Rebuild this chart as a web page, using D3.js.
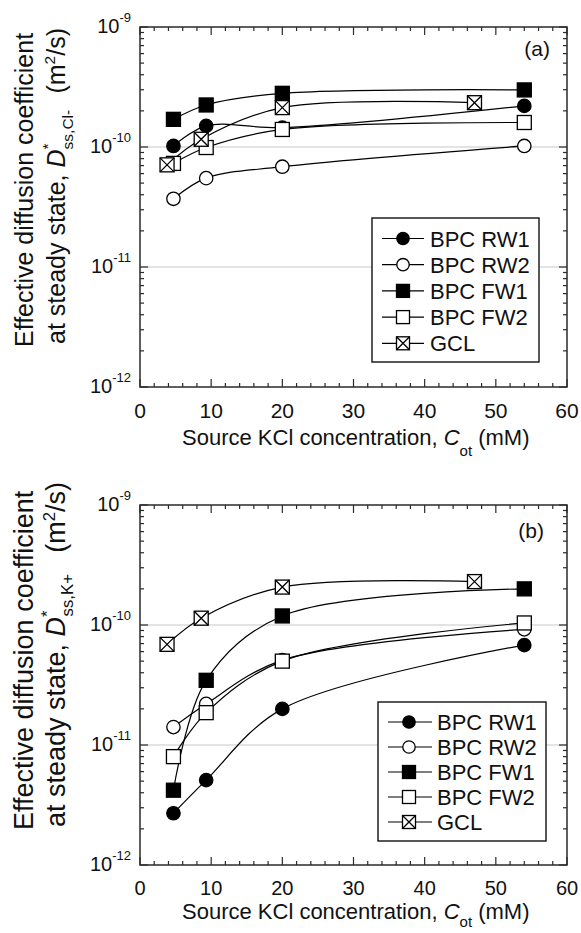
<!DOCTYPE html>
<html><head><meta charset="utf-8">
<script src="https://cdn.jsdelivr.net/npm/d3@7"></script>
<style>
body{margin:0;background:#fff}
svg{display:block}
text{font-family:"Liberation Sans",Arial,Helvetica,sans-serif;fill:#111}
</style>
</head><body>
<svg id="c" width="581" height="933"></svg>
<script>
// ---------- data ----------
const seriesNames = ["BPC RW1", "BPC RW2", "BPC FW1", "BPC FW2", "GCL"];
const markerTypes = ["circleFilled", "circleOpen", "squareFilled", "squareOpen", "squareX"];
const xBPC = [4.7, 9.3, 20, 54];
const xGCL = [3.8, 8.6, 20, 47];

// panel (a): Cl-
const aRW1 = [1.02e-10, 1.5e-10, 1.45e-10, 2.2e-10];
const aRW2 = [3.7e-11, 5.5e-11, 6.85e-11, 1.02e-10];
const aFW1 = [1.7e-10, 2.24e-10, 2.8e-10, 2.99e-10];
const aFW2 = [7.3e-11, 9.9e-11, 1.4e-10, 1.6e-10];
const aGCL = [7.1e-11, 1.16e-10, 2.13e-10, 2.34e-10];

// panel (b): K+
const bRW1 = [2.7e-12, 5.1e-12, 2.0e-11, 6.8e-11];
const bRW2 = [1.41e-11, 2.2e-11, 5.1e-11, 9.2e-11];
const bFW1 = [4.2e-12, 3.46e-11, 1.19e-10, 2.0e-10];
const bFW2 = [8.0e-12, 1.86e-11, 5.0e-11, 1.04e-10];
const bGCL = [6.9e-11, 1.14e-10, 2.07e-10, 2.3e-10];

const xTicks = [0, 10, 20, 30, 40, 50, 60];
const xMinorTicks = d3.range(0, 61, 2);
const yTickExps = [-9, -10, -11, -12];
const yGridExps = [-10, -11];

// ---------- drawing ----------
const svg = d3.select("#c");
const FRAME = "#2a2a2a";

function seriesFor(vals) {
  return vals.map((v, i) => ({
    name: seriesNames[i],
    type: markerTypes[i],
    pts: (i === 4 ? xGCL : xBPC).map((x, j) => ({x: x, y: v[j]}))
  }));
}

function drawMarker(g, type, cx, cy, s) {
  const h = s / 2;
  if (type.startsWith("circle")) {
    g.append("circle").attr("cx", cx).attr("cy", cy).attr("r", h - 0.3)
      .attr("fill", type === "circleFilled" ? "#000" : "#fff")
      .attr("stroke", "#000").attr("stroke-width", 1.3);
  } else {
    g.append("rect").attr("x", cx - h).attr("y", cy - h).attr("width", s).attr("height", s)
      .attr("fill", type === "squareFilled" ? "#000" : "#fff")
      .attr("stroke", "#000").attr("stroke-width", 1.3);
    if (type === "squareX") {
      g.append("path")
        .attr("d", `M${cx - h},${cy - h}L${cx + h},${cy + h}M${cx + h},${cy - h}L${cx - h},${cy + h}`)
        .attr("stroke", "#000").attr("stroke-width", 1.3).attr("fill", "none");
    }
  }
}

function panel(cfg) {
  const x = d3.scaleLinear().domain([0, 60]).range([140, 567]);
  const y = d3.scaleLog().domain([1e-12, 1e-9]).range([cfg.bottom, cfg.top]);
  const g = svg.append("g");

  // gridlines
  g.selectAll(".grid").data(yGridExps).enter().append("line")
    .attr("x1", x(0)).attr("x2", x(60))
    .attr("y1", d => y(Math.pow(10, d))).attr("y2", d => y(Math.pow(10, d)))
    .attr("stroke", "#c8c8c8").attr("stroke-width", 1);

  // ticks (inward, all four sides)
  const minorY = [];
  [-12, -11, -10].forEach(e => { for (let k = 2; k <= 9; k++) minorY.push(k * Math.pow(10, e)); });
  const tk = g.append("g").attr("stroke", FRAME).attr("stroke-width", 1.2);
  xMinorTicks.forEach(v => {
    const L = (v % 10 === 0) ? 8 : 4;
    tk.append("line").attr("x1", x(v)).attr("x2", x(v)).attr("y1", y(1e-12)).attr("y2", y(1e-12) - L);
    tk.append("line").attr("x1", x(v)).attr("x2", x(v)).attr("y1", y(1e-9)).attr("y2", y(1e-9) + L);
  });
  minorY.forEach(v => {
    tk.append("line").attr("x1", x(0)).attr("x2", x(0) + 4).attr("y1", y(v)).attr("y2", y(v));
    tk.append("line").attr("x1", x(60)).attr("x2", x(60) - 4).attr("y1", y(v)).attr("y2", y(v));
  });
  yTickExps.forEach(e => {
    const v = Math.pow(10, e);
    tk.append("line").attr("x1", x(0)).attr("x2", x(0) + 8).attr("y1", y(v)).attr("y2", y(v));
    tk.append("line").attr("x1", x(60)).attr("x2", x(60) - 8).attr("y1", y(v)).attr("y2", y(v));
  });

  // frame
  g.append("rect").attr("x", x(0)).attr("y", y(1e-9)).attr("width", x(60) - x(0))
    .attr("height", y(1e-12) - y(1e-9)).attr("fill", "none")
    .attr("stroke", FRAME).attr("stroke-width", 1.5);

  // x tick labels
  g.selectAll(".xl").data(xTicks).enter().append("text")
    .attr("x", d => x(d)).attr("y", y(1e-12) + cfg.xLabOff)
    .attr("text-anchor", "middle").attr("font-size", cfg.xLabSize).text(d => d);

  // y tick labels 10^n
  yTickExps.forEach(e => {
    const t = g.append("text").attr("x", 131).attr("y", y(Math.pow(10, e)) + 6)
      .attr("text-anchor", "end").attr("font-size", 20);
    t.append("tspan").text("10");
    t.append("tspan").attr("dy", -11).attr("font-size", 13).text("-" + Math.abs(e));
  });

  // lines
  const series = seriesFor(cfg.values);
  const line = d3.line().x(d => x(d.x)).y(d => y(d.y)).curve(d3.curveCatmullRom.alpha(0.5));
  series.forEach(s => {
    g.append("path").attr("d", line(s.pts)).attr("fill", "none")
      .attr("stroke", "#000").attr("stroke-width", 1.2);
  });
  // markers
  series.forEach(s => {
    s.pts.forEach(p => drawMarker(g, s.type, x(p.x), y(p.y), 14));
  });

  // panel label
  g.append("text").attr("x", cfg.letterX).attr("y", cfg.letterY).attr("text-anchor", "end")
    .attr("font-size", 21).text(cfg.letter);

  // legend
  const L = cfg.legend;
  g.append("rect").attr("x", L.x).attr("y", L.y).attr("width", L.w).attr("height", L.h)
    .attr("fill", "#fff").attr("stroke", "#111").attr("stroke-width", 1.4);
  seriesNames.forEach((n, i) => {
    const cy = L.y0 + i * L.dy;
    g.append("line").attr("x1", L.lx1).attr("x2", L.lx2).attr("y1", cy).attr("y2", cy)
      .attr("stroke", "#000").attr("stroke-width", 1.2);
    drawMarker(g, markerTypes[i], L.mx, cy, 13);
    g.append("text").attr("x", L.tx).attr("y", cy + 8).attr("font-size", 22).text(n);
  });

  // x axis title
  const xt = g.append("text").attr("x", 182).attr("y", y(1e-12) + cfg.xTitleOff).attr("font-size", 22);
  xt.append("tspan").text("Source KCl concentration, ");
  xt.append("tspan").attr("font-style", "italic").text("C");
  xt.append("tspan").attr("dy", cfg.subDy).attr("font-size", 15).text("ot");
  xt.append("tspan").attr("dy", -cfg.subDy).text(" (mM)");

  // y axis title (two rotated lines)
  const fs = cfg.yTitleSize;
  g.append("text").attr("transform", `translate(33,${cfg.yTitleStart}) rotate(-90)`)
    .attr("font-size", fs).text("Effective diffusion coefficient");
  const l2 = g.append("text").attr("transform", `translate(65,${cfg.yTitleStart - 3}) rotate(-90)`)
    .attr("font-size", fs);
  l2.append("tspan").text("at steady state, ");
  l2.append("tspan").attr("font-style", "italic").text("D");
  l2.append("tspan").attr("dy", -12).attr("font-size", fs * 0.62).text("*");
  l2.append("tspan").attr("dx", -6).attr("dy", 20).attr("font-size", fs * 0.62).text(cfg.ion);
  const gap = l2.append("tspan").attr("dx", 10).attr("dy", -8).text("(m");
  l2.append("tspan").attr("dy", -10).attr("font-size", fs * 0.62).text("2");
  l2.append("tspan").attr("dy", 10).text("/s)");
  // stretch the gap so the line ends where the reference's does
  const len = l2.node().getComputedTextLength();
  const target = (cfg.yTitleStart - 3) - cfg.yTitleEnd;
  gap.attr("dx", 10 + Math.max(0, target - len));
}

panel({
  top: 27, bottom: 387,
  values: [aRW1, aRW2, aFW1, aFW2, aGCL],
  letter: "(a)", letterX: 550, letterY: 56,
  ion: "ss,Cl-",
  xLabOff: 31, xLabSize: 21, xTitleOff: 58, subDy: 11,
  yTitleStart: 347, yTitleEnd: 32, yTitleSize: 25,
  legend: {x: 372, y: 218, w: 167, h: 144, y0: 238.5, dy: 26.2, lx1: 382, lx2: 424, mx: 403, tx: 430}
});
panel({
  top: 505, bottom: 865,
  values: [bRW1, bRW2, bFW1, bFW2, bGCL],
  letter: "(b)", letterX: 544, letterY: 538,
  ion: "ss,K+",
  xLabOff: 30, xLabSize: 20, xTitleOff: 54, subDy: 8,
  yTitleStart: 830, yTitleEnd: 486, yTitleSize: 27,
  legend: {x: 378, y: 702, w: 168, h: 139, y0: 722, dy: 25, lx1: 388, lx2: 432, mx: 409, tx: 437}
});
</script>
</body></html>
